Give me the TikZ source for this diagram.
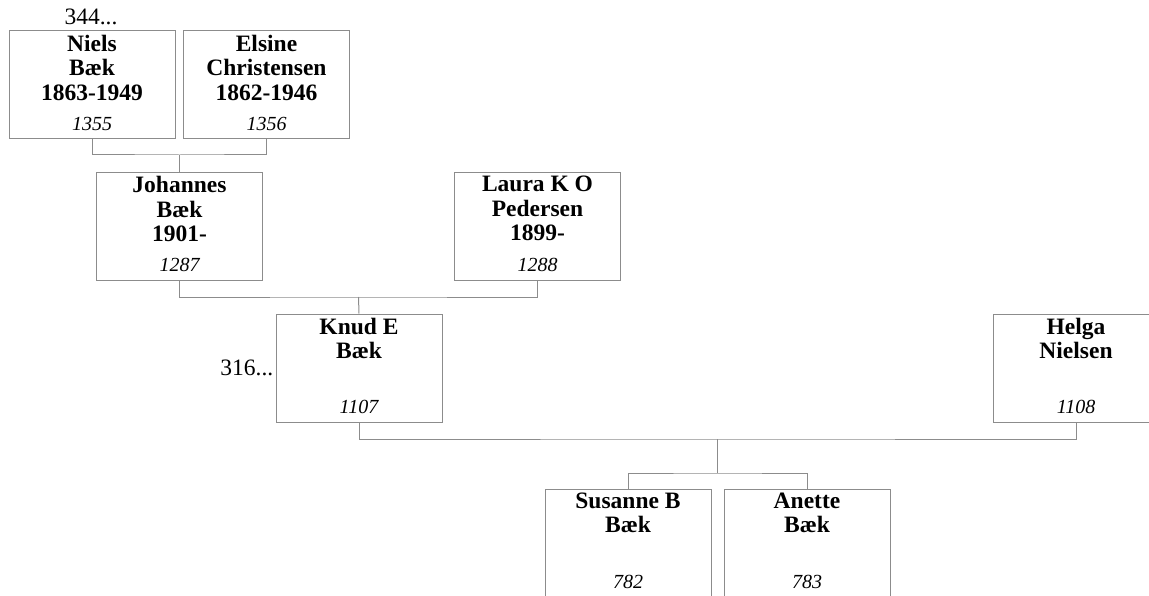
\documentclass[tikz,border=0pt]{standalone}
\usepackage{fontspec}
\setmainfont{Liberation Serif}
\tikzset{
  pbox/.style={draw=black!45, line width=1pt, fill=white, minimum width=166pt, minimum height=108pt, inner sep=0pt},
  nametext/.style={anchor=north, align=center, inner sep=0pt, font=\fontsize{23.5}{24.5}\selectfont\bfseries},
  idtext/.style={anchor=base, inner sep=0pt, font=\fontsize{20}{22}\selectfont\itshape},
  plain/.style={inner sep=0pt, font=\fontsize{23.5}{24}\selectfont},
  conn/.style={draw=black!45, line width=1pt}
}
\begin{document}
\begin{tikzpicture}[x=1pt,y=-1pt]
\useasboundingbox (0,0) rectangle (1149,596);
\clip (0,0) rectangle (1149,596);
% boxes
\node[pbox] (niels) at (92,85) {};
\node[pbox] (elsine) at (266.5,85) {};
\node[pbox] (johannes) at (179.5,226.5) {};
\node[pbox] (laura) at (537.5,226.5) {};
\node[pbox] (knud) at (359,368) {};
\node[pbox] (helga) at (1076,368) {};
\node[pbox] (susanne) at (628,543) {};
\node[pbox] (anette) at (807,543) {};
% names
\node[nametext] (nielsN) at ([yshift=-4pt]niels.north) {Niels\\Bæk\\1863-1949};
\node[nametext] (elsineN) at ([yshift=-4pt]elsine.north) {Elsine\\Christensen\\1862-1946};
\node[nametext] (johannesN) at ([yshift=-4pt]johannes.north) {Johannes\\Bæk\\1901-};
\node[nametext] (lauraN) at ([yshift=-4pt]laura.north) {Laura K O\\Pedersen\\1899-};
\node[nametext] (knudN) at ([yshift=-4pt]knud.north) {Knud E\\Bæk};
\node[nametext] (helgaN) at ([yshift=-4pt]helga.north) {Helga\\Nielsen};
\node[nametext] (susanneN) at ([yshift=-4pt]susanne.north) {Susanne B\\Bæk};
\node[nametext] (anetteN) at ([yshift=-4pt]anette.north) {Anette\\Bæk};
% ids
\node[idtext] (nielsI) at ([yshift=9pt]niels.south) {1355};
\node[idtext] (elsineI) at ([yshift=9pt]elsine.south) {1356};
\node[idtext] (johannesI) at ([yshift=9pt]johannes.south) {1287};
\node[idtext] (lauraI) at ([yshift=9pt]laura.south) {1288};
\node[idtext] (knudI) at ([yshift=9pt]knud.south) {1107};
\node[idtext] (helgaI) at ([yshift=9pt]helga.south) {1108};
\node[idtext] (susanneI) at ([yshift=9pt]susanne.south) {782};
\node[idtext] (anetteI) at ([yshift=9pt]anette.south) {783};
% more markers
\node[plain, anchor=base] (more1) at (91,25) {344...};
\node[plain, anchor=east] (more2) at ([xshift=-2pt]knud.west) {316...};
% connectors
\coordinate (j1) at (179.5,155);
\coordinate (j2) at (358.5,297);
\coordinate (j3) at (717.5,439);
\coordinate (j4) at (717.5,473);
\draw[conn] (niels.south) |- (j1) -| (elsine.south);
\draw[conn] (j1) -- (johannes.north);
\draw[conn] (johannes.south) |- (j2) -| (laura.south);
\draw[conn] (j2) -- (knud.north);
\draw[conn] (knud.south) |- (j3) -| (helga.south);
\draw[conn] (j3) -- (j4);
\draw[conn] (susanne.north) |- (j4) -| (anette.north);
\end{tikzpicture}
\end{document}
